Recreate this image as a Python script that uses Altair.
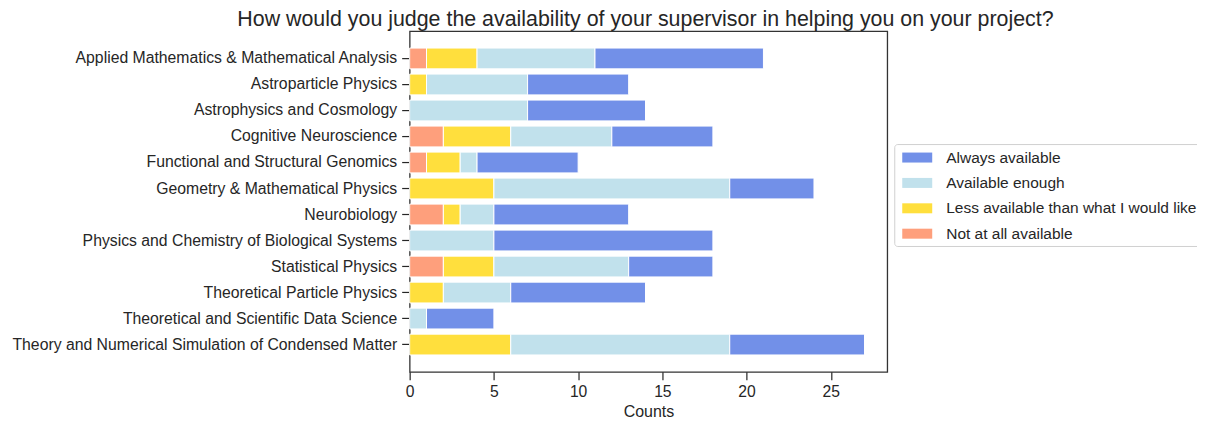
import altair as alt
import pandas as pd

categories = [
    "Applied Mathematics & Mathematical Analysis",
    "Astroparticle Physics",
    "Astrophysics and Cosmology",
    "Cognitive Neuroscience",
    "Functional and Structural Genomics",
    "Geometry & Mathematical Physics",
    "Neurobiology",
    "Physics and Chemistry of Biological Systems",
    "Statistical Physics",
    "Theoretical Particle Physics",
    "Theoretical and Scientific Data Science",
    "Theory and Numerical Simulation of Condensed Matter",
]
not_at_all = [1, 0, 0, 2, 1, 0, 2, 0, 2, 0, 0, 0]
less_available = [3, 1, 0, 4, 2, 5, 1, 0, 3, 2, 0, 6]
available_enough = [7, 6, 7, 6, 1, 14, 2, 5, 8, 4, 1, 13]
always_available = [10, 6, 7, 6, 6, 5, 8, 13, 5, 8, 4, 8]

answers = ["Always available", "Available enough",
           "Less available than what I would like", "Not at all available"]
colors = ["#7290E8", "#C1E1EC", "#FFDF3D", "#FE9F7C"]
stack_rank = {"Not at all available": 0,
              "Less available than what I would like": 1,
              "Available enough": 2, "Always available": 3}

series = {
    "Not at all available": not_at_all,
    "Less available than what I would like": less_available,
    "Available enough": available_enough,
    "Always available": always_available,
}
rows = []
for ans, vals in series.items():
    for cat, v in zip(categories, vals):
        if v > 0:
            rows.append({"Programme": cat, "Answer": ans, "Counts": v,
                         "rank": stack_rank[ans]})
df = pd.DataFrame(rows)

FONT = "Liberation Sans"
TXT = "#262626"

chart = alt.Chart(df).mark_bar(stroke="white", strokeWidth=1).encode(
    y=alt.Y("Programme:N", sort=categories, title=None,
            scale=alt.Scale(paddingInner=0.2, paddingOuter=0.65),
            axis=alt.Axis(labelFontSize=15.8, labelFont=FONT, labelColor=TXT,
                          tickSize=8, tickColor=TXT, tickWidth=1.2, labelPadding=5,
                          domain=False, grid=False, labelLimit=600)),
    x=alt.X("Counts:Q", title="Counts",
            scale=alt.Scale(domain=[0, 28.35], nice=False, zero=True),
            axis=alt.Axis(values=[0, 5, 10, 15, 20, 25], labelFontSize=15.7,
                          labelFont=FONT, labelColor=TXT, tickSize=8, tickWidth=1.2,
                          tickColor=TXT, domain=False, grid=False, labelPadding=5,
                          titleFont=FONT, titleFontSize=16, titleFontWeight="normal",
                          titleColor=TXT, titlePadding=4, labelFlush=False)),
    color=alt.Color("Answer:N", scale=alt.Scale(domain=answers, range=colors),
                    legend=alt.Legend(
                        title=None, orient="none", legendX=485, legendY=113,
                        labelFont=FONT, labelFontSize=15.5, labelColor=TXT,
                        labelLimit=600,
                        symbolType="M-1.5,-0.5L1.5,-0.5L1.5,0.5L-1.5,0.5Z",
                        symbolSize=400, symbolStrokeWidth=0, symbolOpacity=1,
                        symbolOffset=9.5, rowPadding=6.4, labelOffset=19,
                        strokeColor="#d0d0d0", fillColor="white", padding=3.5,
                        cornerRadius=3)),
    order=alt.Order("rank:Q"),
).properties(
    width=478, height=341,
    autosize=alt.AutoSizeParams(type="none"),
    padding={"left": 402, "top": 23, "right": 310, "bottom": 50},
    title=alt.TitleParams(
        "How would you judge the availability of your supervisor in helping you on your project?",
        font=FONT, fontSize=21.4, fontWeight="normal", color=TXT,
        anchor="middle", frame="group", dx=-3, offset=1),
).configure_view(stroke="#333333", strokeWidth=1.3)

chart.save("out.html", embed_options={"renderer": "svg", "actions": False})
